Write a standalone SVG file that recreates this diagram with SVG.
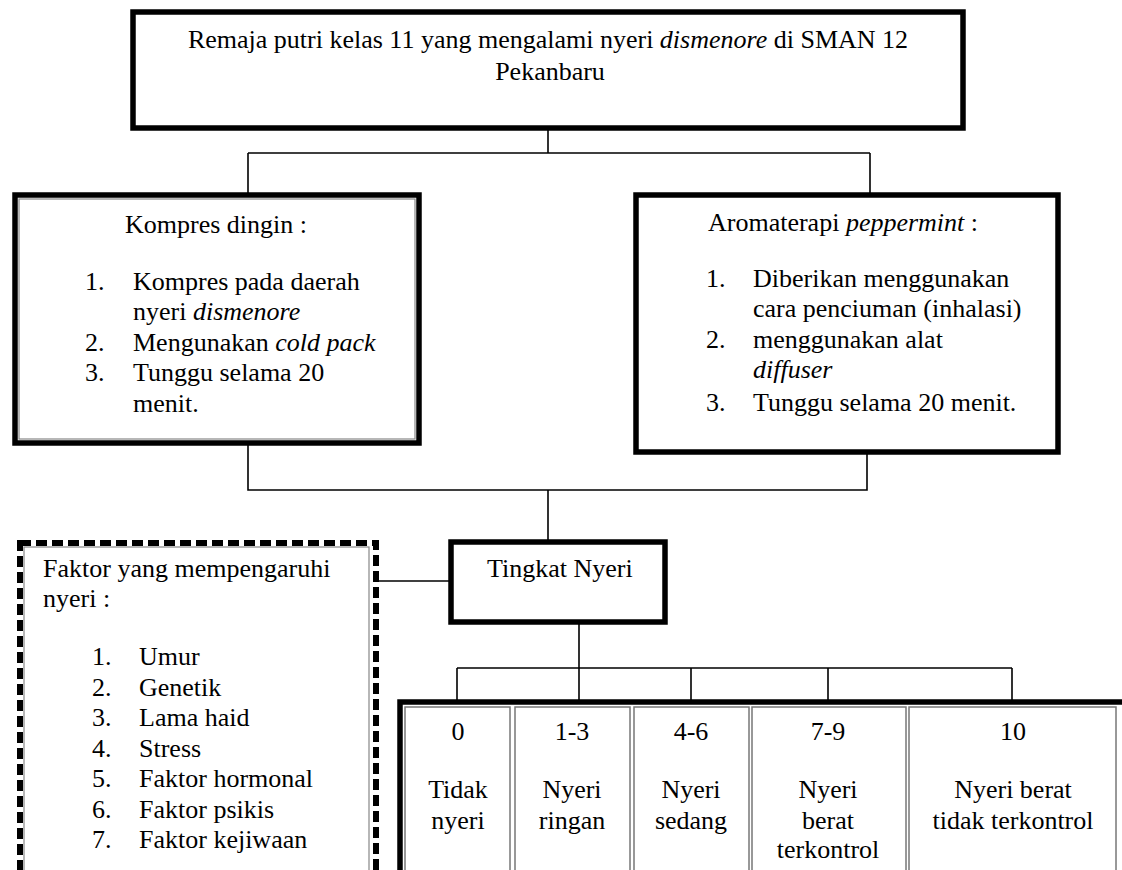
<svg xmlns="http://www.w3.org/2000/svg" width="1122" height="870" viewBox="0 0 1122 870">
<style>
text{font-size:26px;fill:#000}
.c{text-anchor:middle}
.i{font-style:italic}
.thick{fill:#fff;stroke:#000;stroke-width:5.5}
.inner{fill:none;stroke:#888;stroke-width:1.2}
.dash{fill:#fff;stroke:#000;stroke-width:6;stroke-dasharray:11 5}
.cell{fill:#fff;stroke:#777;stroke-width:1.5}
.con{fill:none;stroke:#000;stroke-width:1.6}
</style>
<rect width="1122" height="870" fill="#fff"/>
<g id="connectors">
<path class="con" d="M548,128 V153 M248,153 H870 M248,153 V195 M870,153 V195"/>
<path class="con" d="M248,443 V490 H867 V452 M548,490 V542"/>
<path class="con" d="M376,581 H451"/>
<path class="con" d="M579,622 V668 M457,668 H1012 M457,668 V702 M579,668 V702 M691,668 V702 M828,668 V702 M1012,668 V702"/>
</g>
<g font-family="Liberation Serif, Tinos, DejaVu Serif, serif">
<g id="top">
<rect class="thick" x="133" y="12" width="830" height="116"/>
<text class="c" x="548" y="48">Remaja putri kelas 11 yang mengalami nyeri <tspan class="i">dismenore</tspan> di SMAN 12</text>
<text class="c" x="550" y="80">Pekanbaru</text>
</g>
<g id="kompres">
<rect class="thick" x="15" y="195" width="404" height="248"/>
<rect class="inner" x="19" y="199" width="396" height="240"/>
<text class="c" x="216" y="233">Kompres dingin :</text>
<text x="85" y="290">1.</text><text x="133" y="290">Kompres pada daerah</text>
<text x="133" y="320">nyeri <tspan class="i">dismenore</tspan></text>
<text x="85" y="351">2.</text><text x="133" y="351">Mengunakan <tspan class="i">cold pack</tspan></text>
<text x="85" y="381">3.</text><text x="133" y="381">Tunggu selama 20</text>
<text x="133" y="412">menit.</text>
</g>
<g id="aromaterapi">
<rect class="thick" x="636" y="195" width="422" height="257"/>
<text x="708" y="231">Aromaterapi <tspan class="i">peppermint</tspan> :</text>
<text x="706" y="287">1.</text><text x="753" y="287">Diberikan menggunakan</text>
<text x="753" y="317">cara penciuman (inhalasi)</text>
<text x="706" y="348">2.</text><text x="753" y="348">menggunakan alat</text>
<text x="753" y="378" class="i">diffuser</text>
<text x="706" y="411">3.</text><text x="753" y="411">Tunggu selama 20 menit.</text>
</g>
<g id="faktor">
<rect class="dash" x="20" y="543" width="356" height="360"/>
<rect class="inner" x="24" y="547" width="345" height="350"/>
<text x="43" y="577">Faktor yang mempengaruhi</text>
<text x="43" y="607">nyeri :</text>
<text x="92" y="665">1.</text><text x="139" y="665">Umur</text>
<text x="92" y="696">2.</text><text x="139" y="696">Genetik</text>
<text x="92" y="726">3.</text><text x="139" y="726">Lama haid</text>
<text x="92" y="757">4.</text><text x="139" y="757">Stress</text>
<text x="92" y="787">5.</text><text x="139" y="787">Faktor hormonal</text>
<text x="92" y="818">6.</text><text x="139" y="818">Faktor psikis</text>
<text x="92" y="848">7.</text><text x="139" y="848">Faktor kejiwaan</text>
</g>
<g id="tingkat">
<rect class="thick" x="451" y="542" width="214" height="80"/>
<text x="487" y="577">Tingkat Nyeri</text>
</g>
<g id="skala">
<rect class="thick" x="400" y="702" width="740" height="200"/>
</g>
<g id="cell0">
<rect class="cell" x="405" y="707" width="105" height="180"/>
<text class="c" x="458" y="740">0</text>
<text class="c" x="458" y="798">Tidak</text>
<text class="c" x="458" y="829">nyeri</text>
</g>
<g id="cell1">
<rect class="cell" x="515" y="707" width="115" height="180"/>
<text class="c" x="572" y="740">1-3</text>
<text class="c" x="572" y="798">Nyeri</text>
<text class="c" x="572" y="829">ringan</text>
</g>
<g id="cell2">
<rect class="cell" x="634" y="707" width="115" height="180"/>
<text class="c" x="691" y="740">4-6</text>
<text class="c" x="691" y="798">Nyeri</text>
<text class="c" x="691" y="829">sedang</text>
</g>
<g id="cell3">
<rect class="cell" x="752" y="707" width="154" height="180"/>
<text class="c" x="828" y="740">7-9</text>
<text class="c" x="828" y="798">Nyeri</text>
<text class="c" x="828" y="829">berat</text>
<text class="c" x="828" y="858">terkontrol</text>
</g>
<g id="cell4">
<rect class="cell" x="909" y="707" width="207" height="180"/>
<text class="c" x="1013" y="740">10</text>
<text class="c" x="1013" y="798">Nyeri berat</text>
<text class="c" x="1013" y="829">tidak terkontrol</text>
</g>
</g>
</svg>
